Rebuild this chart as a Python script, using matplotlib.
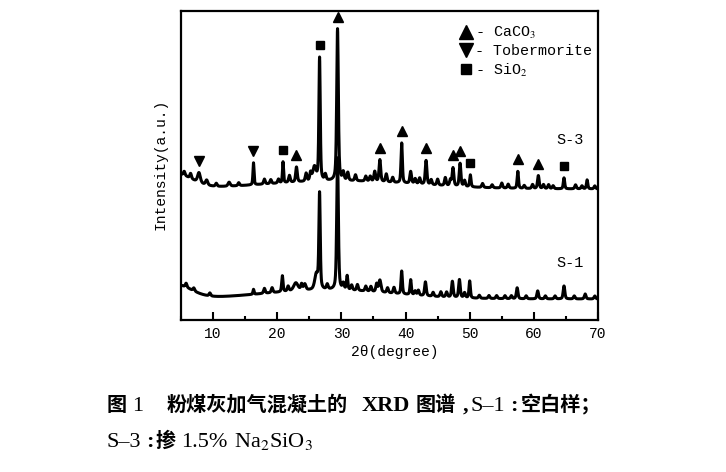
import numpy as np
import matplotlib.pyplot as plt
from matplotlib.lines import Line2D

plt.rcParams['font.family'] = ['Liberation Mono', 'DejaVu Sans']
plt.rcParams['mathtext.fontset'] = 'stix'

two_theta = np.linspace(5, 70, 2601)

# S-3 (1.5% Na2SiO3): background + peaks (centre deg, height a.u., FWHM deg)
s3_base = 131
s3_bg_pos = [4.0, 30.0]
s3_bg_amp = [15, 8]
s3_bg_fwhm = [6.0, 28.0]
s3_pos = [5.5, 6.5, 7.8, 9.0, 10.5, 12.5, 14.0, 16.3, 18.0, 19.0, 20.2, 20.9,
          21.9, 23.0, 24.5, 25.2, 25.8, 26.6, 27.5, 29.4, 30.3, 31.0, 32.2, 33.8,
          34.5, 35.2, 36.0, 37.0, 38.0, 39.4, 40.8, 41.5, 42.2, 43.2, 44.0, 45.0,
          46.2, 47.0, 47.4, 48.5, 49.2, 50.1, 52.0, 53.5, 55.0, 56.0, 57.5, 58.5,
          59.8, 60.7, 61.5, 62.3, 63.0, 64.7, 66.5, 67.5, 68.3, 69.5]
s3_amp = [4, 5, 10, 5, 3, 4, 3, 22, 5, 4, 4, 21,
          7, 15, 8, 8, 14, 123, 6, 152, 8, 8, 6, 5,
          5, 10, 22, 8, 5, 40, 12, 5, 6, 24, 5, 6,
          8, 6, 18, 23, 6, 12, 4, 3, 5, 4, 17, 3,
          4, 13, 4, 4, 3, 11, 4, 3, 9, 3]
s3_fwhm = [0.3, 0.3, 0.5, 0.4, 0.3, 0.4, 0.3, 0.2, 0.3, 0.3, 0.3, 0.2,
           0.3, 0.3, 0.3, 0.3, 0.6, 0.25, 0.3, 0.3, 0.3, 0.3, 0.3, 0.3,
           0.3, 0.3, 0.3, 0.3, 0.3, 0.25, 0.3, 0.3, 0.3, 0.3, 0.3, 0.3,
           0.3, 0.3, 0.3, 0.3, 0.3, 0.25, 0.3, 0.3, 0.3, 0.3, 0.25, 0.3,
           0.3, 0.3, 0.3, 0.3, 0.3, 0.25, 0.3, 0.3, 0.25, 0.3]

# S-1 (blank sample)
s1_base = 21
s1_bg_pos = [4.0, 28.0]
s1_bg_amp = [14, 9]
s1_bg_fwhm = [6.0, 24.0]
s1_pos = [5.8, 7.0, 9.5, 16.3, 18.0, 19.2, 20.8, 21.7, 22.9, 23.8, 24.3, 26.1,
          26.6, 27.8, 29.4, 30.3, 30.9, 31.6, 32.5, 33.8, 34.6, 35.5, 36.0, 37.2,
          38.2, 39.4, 40.8, 41.5, 42.0, 43.1, 44.3, 45.5, 46.4, 47.3, 48.4, 49.2,
          50.0, 51.5, 53.0, 54.2, 55.5, 56.5, 57.4, 58.8, 60.6, 61.8, 63.3, 64.7,
          66.3, 68.0, 69.5]
s1_amp = [4, 3, 3, 5, 5, 5, 16, 5, 8, 6, 6, 15,
          95, 5, 132, 6, 14, 5, 6, 5, 5, 8, 12, 5,
          6, 23, 15, 4, 5, 14, 4, 5, 5, 16, 18, 5,
          17, 3, 3, 3, 3, 3, 11, 3, 8, 3, 3, 13,
          3, 5, 3]
s1_fwhm = [0.3, 0.3, 0.3, 0.2, 0.3, 0.3, 0.25, 0.3, 0.8, 0.3, 0.4, 0.6,
           0.25, 0.3, 0.3, 0.3, 0.25, 0.3, 0.3, 0.3, 0.3, 0.3, 0.4, 0.3,
           0.3, 0.25, 0.25, 0.3, 0.3, 0.3, 0.3, 0.3, 0.3, 0.3, 0.3, 0.3,
           0.25, 0.3, 0.3, 0.3, 0.3, 0.3, 0.3, 0.3, 0.3, 0.3, 0.3, 0.3,
           0.3, 0.3, 0.3]

# phase assignments (2-theta) for S-3
caco3_peaks = [23.0, 29.4, 36.0, 39.4, 43.2, 47.4, 48.5, 57.5, 60.7]
tober_peaks = [7.8, 16.3]
sio2_peaks = [20.9, 26.6, 50.1, 64.7]


def pattern(base, bg_pos, bg_amp, bg_fwhm, pos, amp, fwhm):
    y = np.full_like(two_theta, float(base))
    for c, a, w in zip(bg_pos, bg_amp, bg_fwhm):
        s = w / 2.355
        y += a * np.exp(-(two_theta - c) ** 2 / (2 * s * s))
    for c, a, w in zip(pos, amp, fwhm):
        s = w / 2.355
        g = np.exp(-(two_theta - c) ** 2 / (2 * s * s))
        lor = 1 / (1 + ((two_theta - c) / (w / 2)) ** 2)
        y += a * (0.5 * g + 0.5 * lor)
    return y


s3 = pattern(s3_base, s3_bg_pos, s3_bg_amp, s3_bg_fwhm, s3_pos, s3_amp, s3_fwhm)
s1 = pattern(s1_base, s1_bg_pos, s1_bg_amp, s1_bg_fwhm, s1_pos, s1_amp, s1_fwhm)


def marker_y(curve, xs):
    out = []
    for x in xs:
        m = np.abs(two_theta - x) < 0.3
        out.append(curve[m].max() + 12)
    return out


fig = plt.figure(figsize=(7.26, 4.72), dpi=100)
ax = fig.add_axes([0.2493, 0.322, 0.5744, 0.6547])

ax.plot(two_theta, s3, color='black', lw=2.2)
ax.plot(two_theta, s1, color='black', lw=2.2)

ax.plot(caco3_peaks, marker_y(s3, caco3_peaks), ls='none', marker='^', color='black', ms=7)
ax.plot(tober_peaks, marker_y(s3, tober_peaks), ls='none', marker='v', color='black', ms=7)
ax.plot(sio2_peaks, marker_y(s3, sio2_peaks), ls='none', marker='s', color='black', ms=5.5)

ax.text(65.6, 180, 'S-3', fontsize=11, ha='center', va='center')
ax.text(65.6, 57, 'S-1', fontsize=11, ha='center', va='center')

handles = [
    Line2D([], [], ls='none', marker='^', color='black', ms=10, label='- CaCO$_3$'),
    Line2D([], [], ls='none', marker='v', color='black', ms=10, label='- Tobermorite'),
    Line2D([], [], ls='none', marker='s', color='black', ms=7, label='- SiO$_2$'),
]
ax.legend(handles=handles, loc='upper left', bbox_to_anchor=(0.67, 0.955),
          frameon=False, fontsize=10.8, handlelength=0.8, handletextpad=0.2,
          labelspacing=0.22, borderpad=0, borderaxespad=0)

ax.set_xlim(5, 70)
ax.set_ylim(0, 309)
ax.set_xticks(range(10, 71, 10))
ax.set_xticks(range(5, 71, 10), minor=True)
ax.set_yticks([])
ax.tick_params(axis='x', which='major', direction='in', length=6, width=1.5,
               labelsize=10.5, pad=5)
ax.tick_params(axis='x', which='minor', direction='in', length=3, width=1.5)
for sp in ax.spines.values():
    sp.set_linewidth(1.6)

ax.text(0.513, -0.104, '2θ(degree)', transform=ax.transAxes, fontsize=10.5,
        ha='center', va='center')
ax.text(-0.05, 0.505, 'Intensity(a.u.)', transform=ax.transAxes, fontsize=10.5,
        ha='center', va='center', rotation=90)

# caption, placed piece by piece on a shared baseline (pixel x, family, weight, size)
cjk = 'Noto Sans CJK SC'
latin = 'Liberation Serif'
line1 = [('图', 107, cjk, 'bold', 14.5), ('1', 132, latin, 'normal', 16),
         ('粉煤灰加气混凝土的', 167, cjk, 'bold', 14.5), ('XRD', 362, latin, 'bold', 16),
         ('图谱', 416, cjk, 'bold', 14.5), (',', 463, latin, 'bold', 16),
         ('S–1', 471, latin, 'normal', 16), (':', 510, latin, 'bold', 16),
         ('空白样；', 521, cjk, 'bold', 14.5)]
line2 = [('S–3', 107, latin, 'normal', 16), (':', 146, latin, 'bold', 16),
         ('掺', 156, cjk, 'bold', 14.5), ('1.5%', 181, latin, 'normal', 16),
         ('Na$_2$SiO$_3$', 234, latin, 'normal', 16)]
for txt, px, fam, wt, fs in line1:
    fig.text(px / 726, 1 - 411 / 472, txt, family=fam, fontsize=fs,
             fontweight=wt, ha='left', va='baseline')
for txt, px, fam, wt, fs in line2:
    fig.text(px / 726, 1 - 447 / 472, txt, family=fam, fontsize=fs,
             fontweight=wt, ha='left', va='baseline')

fig.savefig('out.png', dpi=100)
